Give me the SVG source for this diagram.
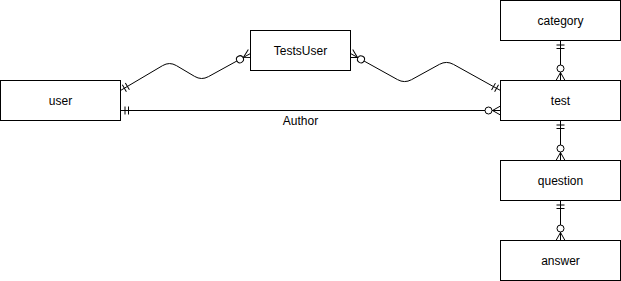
<svg xmlns="http://www.w3.org/2000/svg" width="621" height="281" viewBox="0 0 621 281">
<style>
.box{fill:#fff;stroke:#000;stroke-width:1}
.lbl{font-family:"Liberation Sans",Arial,sans-serif;font-size:12px;fill:#000;text-anchor:middle;dominant-baseline:central}
.edge{fill:none;stroke:#000;stroke-width:1;marker-start:url(#mandOne);marker-end:url(#zeroMany)}
.mk{fill:none;stroke:#000;stroke-width:1}
</style>
<defs>
<marker id="mandOne" markerUnits="userSpaceOnUse" orient="auto-start-reverse" refX="0" refY="0" markerWidth="20" markerHeight="20" overflow="visible">
<path class="mk" d="M-4.5,-4V4M-8,-4V4"/>
</marker>
<marker id="zeroMany" markerUnits="userSpaceOnUse" orient="auto-start-reverse" refX="0" refY="0" markerWidth="20" markerHeight="20" overflow="visible">
<path class="mk" d="M0,-4.5L-8,0L0,4.5"/>
<circle cx="-12" cy="0" r="3.5" fill="#fff" stroke="#000" stroke-width="1"/>
</marker>
<marker id="zeroManyS" markerUnits="userSpaceOnUse" orient="auto-start-reverse" refX="0" refY="0" markerWidth="20" markerHeight="20" overflow="visible">
<path class="mk" d="M0,-4.5L-8,0L0,4.5"/>
<circle cx="-12" cy="0" r="3.5" fill="#fff" stroke="#000" stroke-width="1"/>
</marker>
</defs>
<g transform="translate(0.5,0.5)">
<g id="connectors">
<path class="edge" d="M120,90 L162.1,65.1 Q169,61 175.9,65.1 L194.1,75.9 Q201,80 208,76.1 L250,53"/>
<path class="edge" d="M500,90 L453,63.9 Q446,60 439,63.8 L411,79.2 Q404,83 397,79.1 L350,53"/>
<path class="edge" d="M120,110 L500,110"/>
<path class="edge" d="M560,40 L560,80"/>
<path class="edge" d="M560,120 L560,160"/>
<path class="edge" d="M560,200 L560,240"/>
<text class="lbl" x="300" y="120">Author</text>
</g>
<g id="user"><rect class="box" x="0" y="80" width="120" height="40"/><text class="lbl" x="60" y="100">user</text></g>
<g id="testsuser"><rect class="box" x="250" y="30" width="100" height="40"/><text class="lbl" x="300" y="50">TestsUser</text></g>
<g id="category"><rect class="box" x="500" y="0" width="120" height="40"/><text class="lbl" x="560" y="20">category</text></g>
<g id="test"><rect class="box" x="500" y="80" width="120" height="40"/><text class="lbl" x="560" y="100">test</text></g>
<g id="question"><rect class="box" x="500" y="160" width="120" height="40"/><text class="lbl" x="560" y="180">question</text></g>
<g id="answer"><rect class="box" x="500" y="240" width="120" height="40"/><text class="lbl" x="560" y="260">answer</text></g>
</g>
</svg>
